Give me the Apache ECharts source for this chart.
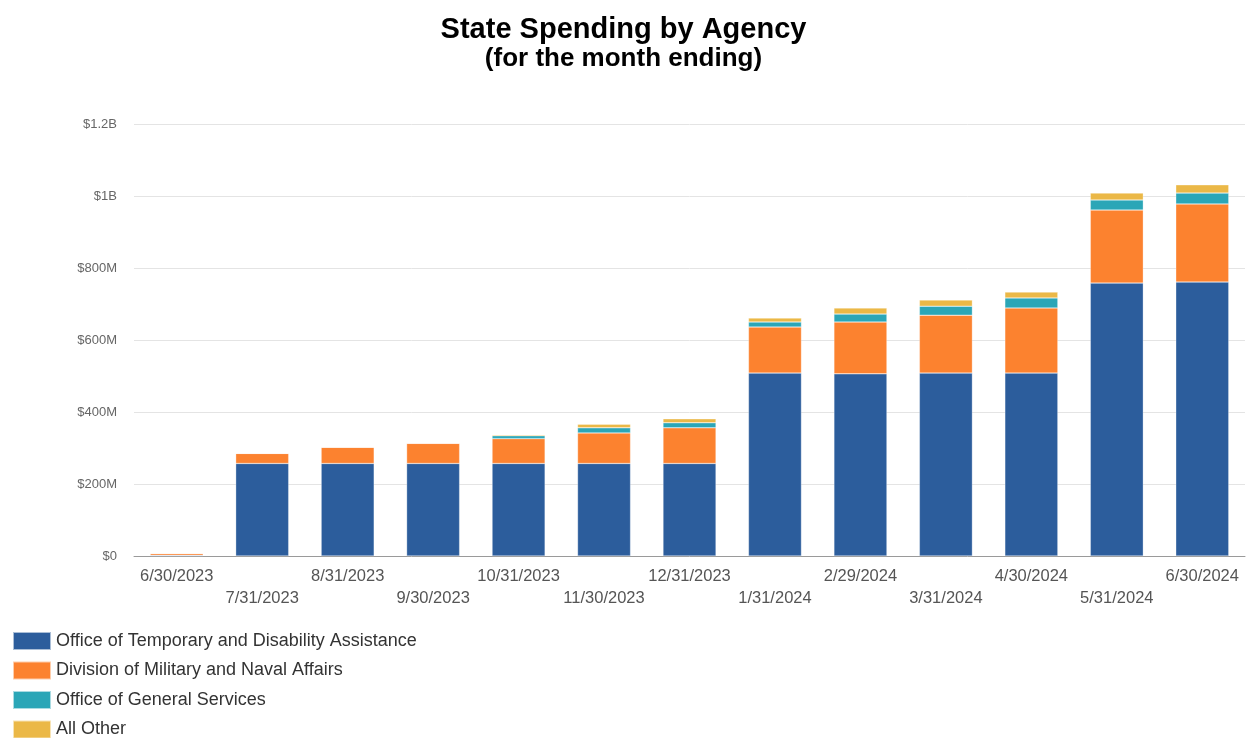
<!DOCTYPE html>
<html>
<head>
<meta charset="utf-8">
<script src="https://cdn.jsdelivr.net/npm/echarts@6/dist/echarts.min.js"></script>
<style>html,body{margin:0;padding:0;background:#fff;}#c{width:1247px;height:738px;}</style>
</head>
<body>
<div id="c"></div>
<script>
const categories = ['6/30/2023','7/31/2023','8/31/2023','9/30/2023','10/31/2023','11/30/2023','12/31/2023','1/31/2024','2/29/2024','3/31/2024','4/30/2024','5/31/2024','6/30/2024'];
// values in $ millions
const otda  = [2, 257, 257, 257, 257, 257, 257, 508, 506, 508, 508, 758, 761];
const dmna  = [5, 28, 45, 56, 69, 85, 99, 128, 144, 161, 181, 203, 217];
const ogs   = [0, 0, 0, 0, 8, 14, 14, 14, 22, 25, 28, 28, 30];
const other = [0, 0, 0, 0, 3, 10, 11, 11, 17, 17, 16, 19, 23];
const seriesNames = ['Office of Temporary and Disability Assistance','Division of Military and Naval Affairs','Office of General Services','All Other'];
const colors = ['#2c5d9c','#fc822f','#2ba6b7','#ebb847'];
const yTicks = {0:'$0',200:'$200M',400:'$400M',600:'$600M',800:'$800M',1000:'$1B',1200:'$1.2B'};

const font = '"Liberation Sans", Arial';
const chart = echarts.init(document.getElementById('c'));
const mk = (name, data, i) => ({
  name, type: 'bar', stack: 'total', data, barWidth: 53,
  itemStyle: { color: colors[i], borderColor: 'rgba(255,255,255,0.6)', borderWidth: 0.5 }
});
chart.setOption({
  animation: false,
  color: colors,
  title: [
    { text: 'State Spending by Agency', left: 'center', top: 10,
      textStyle: { fontFamily: font, fontSize: 29, fontWeight: 'bold', color: '#000' } },
    { text: '(for the month ending)', left: 'center', top: 41,
      textStyle: { fontFamily: font, fontSize: 26, fontWeight: 'bold', color: '#000' } }
  ],
  grid: { left: 134, right: 2, top: 124, bottom: 182, containLabel: false },
  legend: {
    orient: 'vertical', left: 12, top: 631, height: 140, padding: 0,
    itemWidth: 38, itemHeight: 18, itemGap: 9.5,
    icon: 'rect', data: seriesNames,
    textStyle: { fontFamily: font, fontSize: 18, color: '#333' }
  },
  xAxis: {
    type: 'category', data: categories,
    axisTick: { show: false },
    axisLine: { lineStyle: { color: '#9a9a9a', width: 1 } },
    axisLabel: {
      interval: 0, fontFamily: font, fontSize: 16.5, color: '#555', lineHeight: 22, margin: 9,
      formatter: (v, i) => (i % 2 ? '\n' + v : v)
    }
  },
  yAxis: {
    type: 'value', min: 0, max: 1200, interval: 200,
    axisLine: { show: false }, axisTick: { show: false },
    splitLine: { lineStyle: { color: '#e4e4e4' } },
    axisLabel: { fontFamily: font, fontSize: 13, color: '#666', margin: 17,
      formatter: v => yTicks[v] }
  },
  series: [mk(seriesNames[0], otda, 0), mk(seriesNames[1], dmna, 1), mk(seriesNames[2], ogs, 2), mk(seriesNames[3], other, 3)]
});
</script>
</body>
</html>
